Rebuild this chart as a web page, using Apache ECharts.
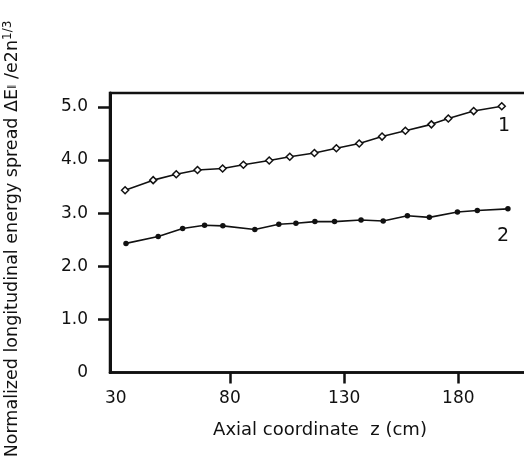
<!DOCTYPE html>
<html><head><meta charset="utf-8">
<script src="https://cdn.jsdelivr.net/npm/echarts@6/dist/echarts.min.js"></script>
<style>html,body{margin:0;padding:0;background:#fff}#c{width:524px;height:470px}</style>
</head><body><div id="c"></div>
<script>
const xTickLabels = [30, 80, 130, 180];
const yTickLabels = [0, 1, 2, 3, 4, 5];
const z1 = [34.1, 46.4, 56.5, 65.8, 76.8, 85.9, 97.2, 106.2, 117.0, 126.6, 136.6, 146.6, 156.8, 168.2, 175.6, 186.7, 199.0];
const e1 = [3.43, 3.62, 3.73, 3.81, 3.84, 3.91, 3.99, 4.06, 4.13, 4.22, 4.31, 4.44, 4.55, 4.67, 4.78, 4.92, 5.01];
const z2 = [34.5, 48.6, 59.3, 68.9, 76.9, 90.9, 101.4, 108.9, 117.2, 125.8, 137.4, 147.1, 157.7, 167.3, 179.6, 188.3, 201.7];
const e2 = [2.43, 2.56, 2.71, 2.77, 2.76, 2.69, 2.79, 2.81, 2.84, 2.84, 2.87, 2.85, 2.95, 2.92, 3.02, 3.05, 3.08];
const curveNames = ['1', '2'];

const font = '"DejaVu Sans", sans-serif';
const ink = '#111';
const chart = echarts.init(document.getElementById('c'));
chart.setOption({
  animation: false,
  backgroundColor: '#fff',
  grid: { left: 110, top: 93, bottom: 97.5, right: -20, outerBoundsMode: 'none', containLabel: false,
    show: true, borderColor: ink, borderWidth: 2.5, backgroundColor: 'transparent' },
  xAxis: {
    type: 'value', min: 27.5, max: 217.5,
    axisLine: { show: true, lineStyle: { color: ink, width: 2.5 } },
    axisTick: { show: true, length: 11, lineStyle: { color: ink, width: 2.5 }, customValues: xTickLabels.slice(1) },
    axisLabel: { color: ink, fontFamily: font, fontSize: 17, margin: 18, customValues: xTickLabels },
    splitLine: { show: false }
  },
  yAxis: {
    type: 'value', min: 0, max: 5.26,
    axisLine: { show: true, lineStyle: { color: ink, width: 3 } },
    axisTick: { show: true, length: 12, lineStyle: { color: ink, width: 2.5 }, customValues: yTickLabels.slice(1) },
    axisLabel: { color: ink, fontFamily: font, fontSize: 17, margin: 22, customValues: yTickLabels,
      formatter: v => v === 0 ? '0' : v.toFixed(1) },
    splitLine: { show: false }
  },
  series: [
    { type: 'line', name: curveNames[0], data: z1.map((x, i) => [x, e1[i]]),
      symbol: 'diamond', symbolSize: 7, showAllSymbol: true,
      lineStyle: { color: ink, width: 1.6 }, itemStyle: { color: '#fff', borderColor: ink, borderWidth: 1.5 } },
    { type: 'line', name: curveNames[1], data: z2.map((x, i) => [x, e2[i]]),
      symbol: 'circle', symbolSize: 5.5, showAllSymbol: true,
      lineStyle: { color: ink, width: 1.6 }, itemStyle: { color: ink, borderColor: ink, borderWidth: 0 } }
  ],
  graphic: [
    { type: 'text', left: 498, top: 117, style: { text: curveNames[0], font: '19px ' + font, fill: ink } },
    { type: 'text', left: 497, top: 227, style: { text: curveNames[1], font: '19px ' + font, fill: ink } },
    { type: 'text', x: 320, y: 430, style: { text: 'Axial coordinate  z (cm)', font: '18px ' + font, fill: ink, align: 'center', verticalAlign: 'middle' } },
    { type: 'text', x: 12, y: 239, rotation: Math.PI / 2,
      style: { text: 'Normalized longitudinal energy spread ΔE{s|∥} /e2n{sup|1/3}', font: '17.5px ' + font, fill: ink,
        align: 'center', verticalAlign: 'middle',
        rich: { s: { fontSize: 9, fontFamily: font, fill: ink }, sup: { fontSize: 12, fontFamily: font, fill: ink, verticalAlign: 'top', padding: [0,0,9,0] } } } }
  ]
});
</script></body></html>
